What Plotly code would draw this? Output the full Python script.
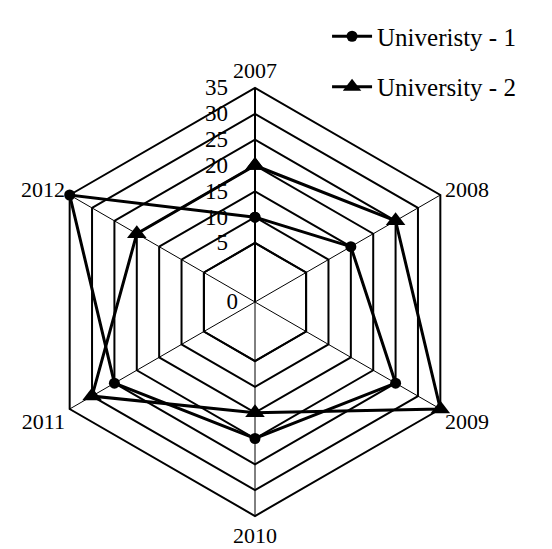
import plotly.graph_objects as go

years = ["2007", "2008", "2009", "2010", "2011", "2012"]
uni1 = [10, 15, 25, 20, 25, 35]
uni2 = [20, 25, 35, 15, 30, 20]
name1 = "Univeristy - 1"
name2 = "University - 2"
tick_vals = [5, 10, 15, 20, 25, 30, 35]

FONT = "Liberation Serif, Times New Roman, serif"
FS = 23
W, H = 552, 549
cx, cy = 247, 255          # centre in px (from left / from bottom), page offset compensated
R_out, R_in = 214, 59

def dom(c, r, total):
    return [(c - r) / total, (c + r) / total]

fig = go.Figure()
fig.add_trace(go.Scatterpolar(
    r=uni1 + uni1[:1], theta=years + years[:1], mode="lines+markers", name=name1,
    line=dict(color="black", width=3), marker=dict(symbol="circle", size=11, color="black"),
    legendgroup="a", subplot="polar"))
fig.add_trace(go.Scatterpolar(
    r=uni2 + uni2[:1], theta=years + years[:1], mode="lines+markers", name=name2,
    line=dict(color="black", width=3), marker=dict(symbol="triangle-up", size=17, color="black"),
    legendgroup="b", subplot="polar"))
# inner core (0..5) grid carrier
fig.add_trace(go.Scatterpolar(
    r=[0] * len(years), theta=years, mode="lines", line=dict(width=0, color="rgba(0,0,0,0)"),
    showlegend=False, hoverinfo="skip", subplot="polar2"))

fig.update_layout(
    width=W, height=H, margin=dict(l=0, r=0, t=0, b=0),
    paper_bgcolor="white", plot_bgcolor="white",
    font=dict(family=FONT, size=FS, color="black"),
    showlegend=True,
    legend=dict(x=0.578, y=0.99, xanchor="left", yanchor="top",
                font=dict(family=FONT, size=25, color="black"),
                itemwidth=40,
                tracegroupgap=15, traceorder="grouped", bgcolor="rgba(0,0,0,0)"),
    polar=dict(
        domain=dict(x=dom(cx, R_out, W), y=dom(cy, R_out, H)),
        hole=R_in / R_out,
        gridshape="linear",
        bgcolor="white",
        radialaxis=dict(range=[5, 35], tickvals=tick_vals, angle=90, tickangle=90,
                        side="counterclockwise", showline=True, linecolor="black", linewidth=2,
                        gridcolor="black", gridwidth=2,
                        ticks="outside", ticklen=18, tickcolor="rgba(0,0,0,0)",
                        tickfont=dict(family=FONT, size=FS, color="black")),
        angularaxis=dict(type="category", categoryarray=years, direction="clockwise", rotation=90,
                         showline=True, linecolor="black", linewidth=2,
                         gridcolor="black", gridwidth=1, ticks="",
                         tickfont=dict(family=FONT, size=22, color="black")),
    ),
    polar2=dict(
        domain=dict(x=dom(cx, R_in, W), y=dom(cy, R_in, H)),
        gridshape="linear",
        bgcolor="rgba(0,0,0,0)",
        radialaxis=dict(range=[0, 5], tickvals=[0], angle=90, tickangle=90,
                        side="counterclockwise", showline=True, linecolor="black", linewidth=2,
                        showgrid=False,
                        ticks="outside", ticklen=8, tickcolor="rgba(0,0,0,0)",
                        tickfont=dict(family=FONT, size=FS, color="black")),
        angularaxis=dict(type="category", categoryarray=years, direction="clockwise", rotation=90,
                         showline=True, linecolor="black", linewidth=2,
                         gridcolor="black", gridwidth=1, ticks="", showticklabels=False),
    ),
)

fig.write_html("out.html", config={"displayModeBar": False})
